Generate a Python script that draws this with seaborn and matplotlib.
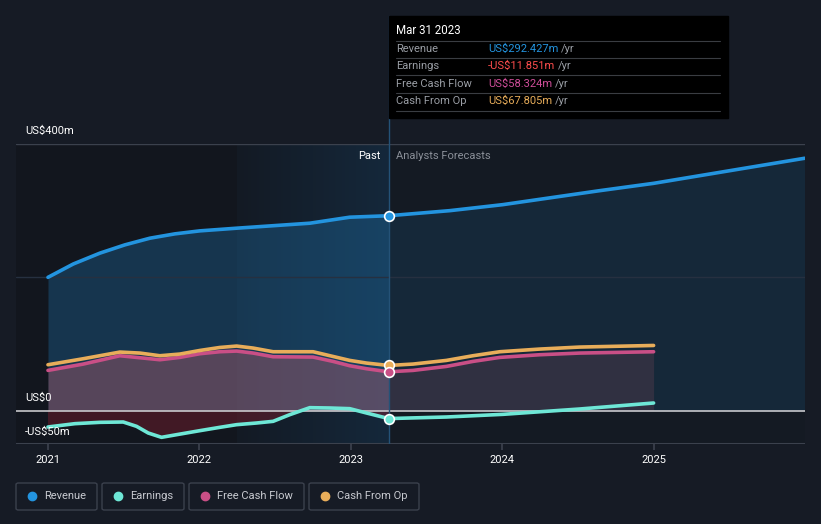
import matplotlib.pyplot as plt
import matplotlib.patches as mpatches
from matplotlib.colors import LinearSegmentedColormap
import numpy as np
import pandas as pd
import seaborn as sns

# values (US$ m), x as decimal years
rev_x = [2021.0, 2021.167, 2021.343, 2021.508, 2021.673, 2021.838, 2022.003, 2022.246,
         2022.73, 2022.993, 2023.25, 2023.653, 2024.003, 2024.644, 2025.0, 2025.997]
rev_y = [200, 220, 236.3, 248.7, 258.7, 265.2, 269.7, 273.7,
         281.2, 290.2, 292.4, 300, 309, 330, 341, 378.6]

cash_x = [2021.0, 2021.233, 2021.475, 2021.607, 2021.739, 2021.871, 2022.003, 2022.135,
          2022.246, 2022.355, 2022.487, 2022.751, 2022.883, 2022.993, 2023.104, 2023.25,
          2023.411, 2023.632, 2023.807, 2023.984, 2024.248, 2024.512, 2025.0]
cfo_y = [68.9, 77.9, 87.9, 86.4, 82.4, 84.9, 90.3, 94.8,
         96.9, 93.9, 88.4, 88.4, 81.3, 75.4, 71.4, 67.8,
         69.9, 75.4, 82.4, 88.4, 92.4, 95.4, 97.8]
fcf_y = [60.4, 69.9, 82.4, 79.4, 76.4, 79.9, 85.4, 88.4,
         89.4, 86.4, 80.9, 80.4, 73.9, 67.4, 62.9, 58.3,
         60.4, 66.4, 73.9, 79.9, 83.9, 86.4, 88.4]

earn_x = [2021.0, 2021.178, 2021.343, 2021.497, 2021.585, 2021.662, 2021.75, 2021.85,
          2022.003, 2022.135, 2022.246, 2022.378, 2022.487, 2022.597, 2022.729, 2022.861,
          2022.993, 2023.104, 2023.25, 2023.632, 2024.005, 2024.512, 2025.0]
earn_y = [-24.5, -19.5, -17.5, -17.0, -23.5, -33.5, -40, -36,
          -30, -25, -21, -18.5, -16, -6, 4.5, 4,
          3, -3.5, -11.85, -9.5, -5.5, 2.5, 11.5]

series_names = ["Revenue", "Earnings", "Free Cash Flow", "Cash From Op"]
tip_values = ["US$292.427m", "-US$11.851m", "US$58.324m", "US$67.805m"]
y_labels = {400: "US$400m", 0: "US$0", -50: "-US$50m"}
x_ticks = [2021, 2022, 2023, 2024, 2025]

BG = "#161b25"
C_REV = "#2394df"
C_EARN = "#6ee7d6"
C_FCF = "#c94f86"
C_CFO = "#e8ad5a"
TIP_COLS = [C_REV, "#ff4d4d", "#d04e9a", C_CFO]
NOW = 2023.25

sns.set_theme(style="dark")
plt.rcParams["font.family"] = ["Roboto", "DejaVu Sans"]

W, H = 821, 524
fig = plt.figure(figsize=(W / 100, H / 100), dpi=100)
fig.patch.set_facecolor(BG)


def fx(px):
    return px / W


def fy(py):
    return 1 - py / H


ax = fig.add_axes([fx(16), fy(444), fx(805 - 16), fy(144) - fy(444)])
ax.set_facecolor("#141a23")
x0 = 2021 - 32 / 151.5
ax.set_xlim(x0, 2026.0)
ax.set_ylim(-50, 400)

# background regions
ax.axvspan(x0, 2022.25, color="#12161e", zorder=0, lw=0)
grad = np.linspace(0, 1, 400).reshape(1, -1)
cm = LinearSegmentedColormap.from_list("band", ["#131a24", "#15283b"])
ax.imshow(grad, extent=[2022.25, NOW, -50, 400], aspect="auto", cmap=cm,
          interpolation="bilinear", zorder=0.5)

# fills
rx = np.array(rev_x); ry = np.array(rev_y)
ax.fill_between(rx[rx <= NOW], 0, ry[rx <= NOW], color=C_REV, alpha=0.25, lw=0, zorder=1)
ax.fill_between(rx[rx >= NOW], 0, ry[rx >= NOW], color=C_REV, alpha=0.12, lw=0, zorder=1)
cx = np.array(cash_x); fya = np.array(fcf_y)
ax.fill_between(cx[cx <= NOW], 0, fya[cx <= NOW], color="#c0606e", alpha=0.38, lw=0, zorder=1.2)
ax.fill_between(cx[cx >= NOW], 0, fya[cx >= NOW], color="#c0606e", alpha=0.16, lw=0, zorder=1.2)
ex = np.array(earn_x); ey = np.array(earn_y)
m = ex <= NOW
ax.fill_between(ex[m], 0, ey[m], where=ey[m] < 0, interpolate=True,
                color="#8a2030", alpha=0.4, lw=0, zorder=1.2)

# grid lines
ax.axhline(400, color="#3b414d", lw=1, zorder=2)
ax.axhline(200, color="#263040", lw=1, zorder=2)
ax.axhline(0, color="#c8c8cc", lw=1.2, zorder=2.5)
ax.axhline(-50, color="#3b414d", lw=1.5, zorder=2)

df = pd.concat([
    pd.DataFrame({"x": rev_x, "y": rev_y, "s": "Revenue"}),
    pd.DataFrame({"x": earn_x, "y": earn_y, "s": "Earnings"}),
    pd.DataFrame({"x": cash_x, "y": fcf_y, "s": "Free Cash Flow"}),
    pd.DataFrame({"x": cash_x, "y": cfo_y, "s": "Cash From Op"}),
])
pal = {"Revenue": C_REV, "Earnings": C_EARN, "Free Cash Flow": C_FCF, "Cash From Op": C_CFO}
sns.lineplot(data=df, x="x", y="y", hue="s", palette=pal, lw=2.6, ax=ax,
             legend=False, sort=False, zorder=3)

# current markers
for xs, ys, c in [(rev_x, rev_y, C_REV), (cash_x, cfo_y, C_CFO),
                  (cash_x, fcf_y, C_FCF), (earn_x, earn_y, C_EARN)]:
    v = ys[xs.index(NOW)]
    ax.plot([NOW], [v], "o", ms=7, mfc=c, mec="white", mew=1.2, zorder=5)

ax.axvline(NOW, color="#245277", lw=1, zorder=2.8)
fig.add_artist(plt.Line2D([fx(388.5)] * 2, [fy(144), fy(16)], color="#245277", lw=1))

ax.set_xticks(x_ticks)
ax.set_xticklabels([str(t) for t in x_ticks], color="white", fontsize=8)
ax.tick_params(axis="x", length=4, color="#3b414d", pad=4, bottom=True)
ax.set_yticks([])
ax.set_xlabel(""); ax.set_ylabel("")
for s in ax.spines.values():
    s.set_visible(False)

# y labels
fig.text(fx(25), fy(131), y_labels[400], color="white", fontsize=8, va="center")
fig.text(fx(25), fy(398), y_labels[0], color="white", fontsize=8, va="center")
fig.text(fx(25), fy(432), y_labels[-50], color="white", fontsize=8, va="center")
fig.text(fx(380), fy(156), "Past", color="white", fontsize=8, ha="right", va="center")
fig.text(fx(396), fy(156), "Analysts Forecasts", color="#8a8f98", fontsize=8, va="center")

# tooltip
fig.patches.append(mpatches.Rectangle((fx(389), fy(118)), fx(728 - 389), fy(16) - fy(118),
                                      transform=fig.transFigure, color="black", zorder=10))
fig.text(fx(396), fy(31), "Mar 31 2023", color="white", fontsize=8.3, va="center", zorder=11)
rows_y = [49, 66, 84, 101]
for py in [41, 58, 75, 93, 111]:
    fig.add_artist(plt.Line2D([fx(396), fx(720)], [fy(py)] * 2, color="#3a3d42", lw=0.8, zorder=11))
fig.canvas.draw()
r = fig.canvas.get_renderer()
for name, val, col, py in zip(series_names, tip_values, TIP_COLS, rows_y):
    fig.text(fx(396), fy(py), name, color="#9a9ea5", fontsize=8, va="center", zorder=11)
    t = fig.text(fx(488), fy(py), val, color=col, fontsize=8, va="center", zorder=11)
    bb = t.get_window_extent(renderer=r)
    fig.text(bb.x1 / W + fx(3), fy(py), "/yr", color="#9a9ea5", fontsize=8, va="center", zorder=11)

# legend boxes
boxes = [(16, 97), (102, 184), (189, 304), (309, 419)]
leg_cols = [C_REV, C_EARN, C_FCF, C_CFO]
for (a, b), name, col in zip(boxes, series_names, leg_cols):
    fig.patches.append(mpatches.FancyBboxPatch((fx(a), fy(510)), fx(b - a), fy(483) - fy(510),
                                               boxstyle="round,pad=0,rounding_size=0.003",
                                               transform=fig.transFigure, fc="none",
                                               ec="#3b414d", lw=1))
    fig.add_artist(plt.Line2D([fx(a + 16)], [fy(496)], marker="o", ms=6, color=col, lw=0))
    fig.text(fx(a + 28), fy(496), name, color="#c8cad0", fontsize=8, va="center")

fig.savefig("out.png", dpi=100, facecolor=BG)
